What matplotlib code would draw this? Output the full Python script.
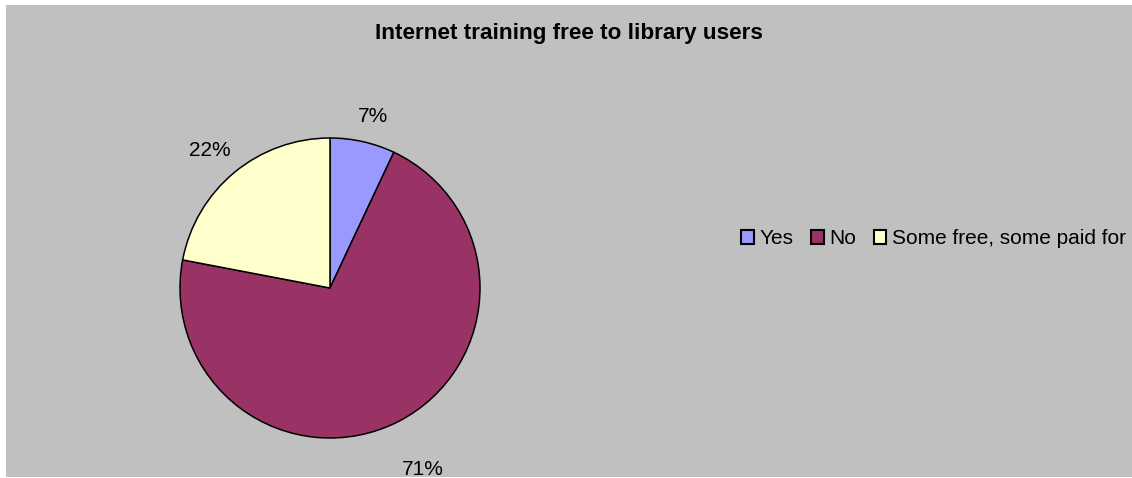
import matplotlib
matplotlib.use("Agg")
import matplotlib.pyplot as plt
import numpy as np

plt.rcParams['font.family'] = ['Liberation Sans', 'DejaVu Sans']

# data
categories = ["Yes", "No", "Some free, some paid for"]
values = [7, 71, 22]
pct_labels = ["7%", "71%", "22%"]
colors = ["#9999FF", "#993366", "#FFFFCC"]
title = "Internet training free to library users"

W, H = 1132, 478
fig = plt.figure(figsize=(W / 100, H / 100), dpi=100)
fig.patch.set_facecolor("white")

# gray chart area as a background axes
bg = fig.add_axes([6 / W, 1 - 477 / H, (W - 6) / W, (477 - 5) / H], zorder=-1)
bg.set_facecolor("#C0C0C0")
bg.set_xticks([])
bg.set_yticks([])
for s in bg.spines.values():
    s.set_visible(False)

# pie axes: center (330, 288) px, radius 150 px
cx, cy, r = 330, 288, 150
half = 1.5 * r
ax = fig.add_axes([(cx - half) / W, (H - cy - half) / H, 2 * half / W, 2 * half / H])

wedges, texts = ax.pie(values, labels=pct_labels, colors=colors, startangle=90,
                       counterclock=False, radius=1, labeldistance=1.2,
                       wedgeprops=dict(edgecolor="black", linewidth=1.1),
                       textprops=dict(fontsize=15, color="black"))
# pie() resets limits, so set them afterwards
ax.set_xlim(-1.5, 1.5)
ax.set_ylim(-1.5, 1.5)
ax.set_aspect("equal")
ax.axis("off")

# nudge labels the way excel places them
dists = [1.18, 1.36, 1.22]
turn = [-1.5, 0, 1.5]
for w, t, d, o in zip(wedges, texts, dists, turn):
    ang = np.deg2rad((w.theta1 + w.theta2) / 2 + o)
    t.set_position((d * np.cos(ang), d * np.sin(ang)))
    t.set_ha("center")
    t.set_va("center")
    t.set_clip_on(False)

fig.text(569 / W, 1 - 33 / H, title, ha="center", va="center",
         fontsize=16.2, fontweight="bold")

leg = fig.legend(wedges, categories, loc="center left",
                 bbox_to_anchor=(741 / W, 1 - 239 / H), ncol=3, frameon=False,
                 fontsize=15, handlelength=0.62, handleheight=0.62,
                 handletextpad=0.25, columnspacing=0.85, borderaxespad=0,
                 borderpad=0)
for h in leg.legend_handles:
    h.set_linewidth(1.5)

fig.savefig("out.png", dpi=100, facecolor=fig.get_facecolor())
